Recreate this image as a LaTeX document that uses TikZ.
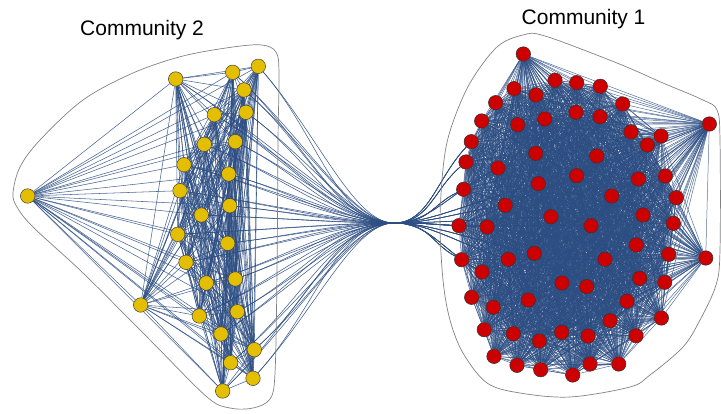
\documentclass[tikz,border=0pt]{standalone}
\usepackage{fontspec}
\setmainfont{Liberation Sans}
\usetikzlibrary{calc}
\pgfdeclarelayer{bg}
\pgfsetlayers{bg,main}
\definecolor{edgeblue}{RGB}{44,77,130}
\definecolor{ygold}{RGB}{228,190,0}
\definecolor{rred}{RGB}{204,0,0}
\definecolor{hullgray}{RGB}{130,130,130}
\tikzset{
  ynode/.style={circle, fill=ygold, draw=black!75, line width=0.5pt, minimum size=14.5pt, inner sep=0pt},
  rnode/.style={circle, fill=rred, draw=black!80, line width=0.5pt, minimum size=14.5pt, inner sep=0pt},
  edgeA/.style={draw=edgeblue, line width=0.5pt, opacity=0.8},
  edgeB/.style={draw=edgeblue, line width=0.55pt, opacity=0.85},
  inter/.style={draw=edgeblue, line width=0.55pt, opacity=0.9},
  hull/.style={draw=hullgray, line width=0.7pt},
  title/.style={font=\fontsize{21}{25}\selectfont, inner sep=0pt, anchor=base west}
}
\begin{document}
\begin{tikzpicture}[x=1pt,y=-1pt]
\useasboundingbox (0,0) rectangle (721,414);
% hulls
\draw[hull] plot[smooth cycle, tension=0.55] coordinates {
 (13,193) (20,167) (40,140) (83,100) (133,73) (183,56) (233,47) (262,45)
 (276,52) (279,73) (278,140) (277,273) (275,373) (270,399) (253,408) (230,408)
 (207,397) (150,340) (83,273) (33,227) (17,207)};
\draw[hull] plot[smooth cycle, tension=0.55] coordinates {
 (443,280) (440,220) (444,160) (452,125) (470,83) (497,47) (523,35) (545,36)
 (617,63) (663,83) (703,100) (717,110) (720,140) (720,250) (716,285) (700,320)
 (683,347) (650,375) (630,387) (570,397) (520,393) (487,383) (463,353) (450,320)};
% titles
\node[title] (t2) at (80,36) {Community 2};
\node[title] (t1) at (521.5,25) {Community 1};
% community 2 nodes
\foreach \x/\y [count=\i] in {27.7/196, 140.7/305, 175.7/79, 232.7/72.3, 258.3/66.3, 244/90,
 214.3/114.7, 246/112.3, 204.3/144.3, 235.3/141.7, 184/164.7, 228.7/174, 180/190.7,
 229.7/205.7, 201.3/215, 177.7/234.3, 227.7/243.3, 186/262.3, 235.3/279, 206.3/283,
 237.3/311.7, 199.3/316, 221/334, 254.3/349.7, 230.7/362.7, 253/378.3, 222.7/391}
  \node[ynode] (y\i) at (\x,\y) {};
% community 1 nodes
\foreach \x/\y [count=\i] in {523.3/54, 555/80.3, 576.7/82.7, 600.3/86.3, 514/88.7, 536/95,
 495.7/102.7, 622.7/104, 709.3/124, 481.7/121, 517.7/124.7, 544.7/119, 576/112.3, 600/116.7,
 631/132, 661/136, 647.3/145, 471.3/141.7, 466/162, 535.7/153.3, 596.7/156, 498/168,
 576.7/175.7, 638.3/179, 665.3/176, 538.3/183.7, 463.7/189.3, 611.7/196, 676.3/197.7,
 505.3/205.3, 551/216.7, 643/215, 459/225.7, 487/227, 591/225.7, 673.3/223.3, 636.3/245,
 534.3/253.3, 705.7/258, 461.7/259.7, 508.3/259.3, 605/259.3, 668.7/254.3, 482/272,
 562/283, 586.7/286.7, 639.7/278.3, 664.7/282.3, 471.7/297.3, 528.3/300, 627/301.3,
 493.3/307.3, 661.3/318, 610/320.7, 484.3/329.7, 513.3/333.7, 561.7/332.3, 588/336,
 539.3/341, 636/335.7, 494/356.3, 517/365.3, 540.7/369.7, 572.7/375, 590/364, 618.7/364}
  \node[rnode] (r\i) at (\x,\y) {};
\coordinate (M) at (394,223);
\begin{pgfonlayer}{bg}
% community 1 edges
\foreach \i [evaluate=\i as \k using int(\i+1)] in {1,...,65}
  \foreach \j in {\k,...,66}
    \draw[edgeA] (r\i) -- (r\j);
% community 2 edges
\foreach \i [evaluate=\i as \k using int(\i+1)] in {1,...,26}
  \foreach \j in {\k,...,27}
    \draw[edgeB] (y\i) -- (y\j);
% inter-community bundled edges
\def\tg{{19,27,33,40,22,30,34,41,44,18,26,31,38}}
\foreach \k in {3,...,27}
  \foreach \m in {0,1}{
    \pgfmathtruncatemacro\t{\tg[mod(\k*2+\m*7,13)]}
    \pgfmathsetmacro\cx{40+\m*18}
    \draw[inter] (y\k) .. controls ($(y\k)!0.45!(M)$) and ($(M)+(-\cx,0)$) .. (M)
      .. controls ($(M)+(35,0)$) and ($(M)!0.55!(r\t)$) .. (r\t);
  }
\end{pgfonlayer}
\end{tikzpicture}
\end{document}
